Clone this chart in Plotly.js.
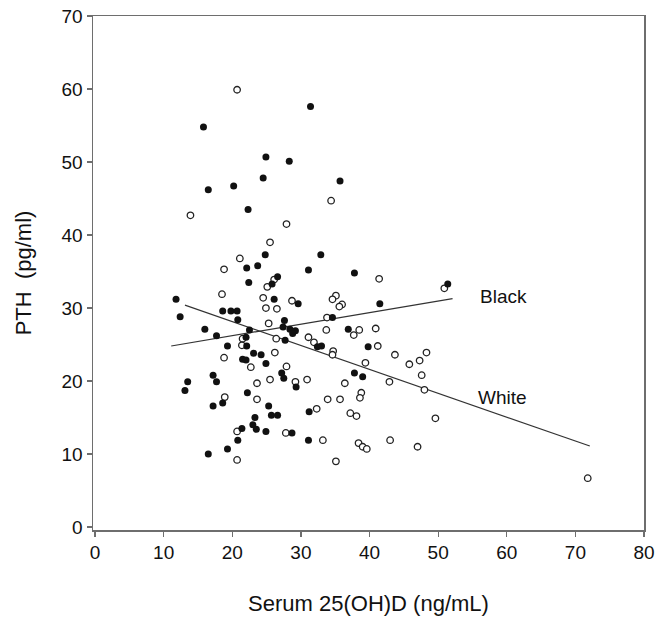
<!DOCTYPE html>
<html>
<head>
<meta charset="utf-8">
<script src="https://cdn.plot.ly/plotly-3.0.1.min.js"></script>
<style>html,body{margin:0;padding:0;background:#fff;}#chart{width:657px;height:627px;}</style>
</head>
<body>
<div id="chart"></div>
<script>
// Black subjects (filled circles): serum 25(OH)D and PTH
const blackX = [31.4,15.8,24.9,28.3,24.5,16.5,20.2,22.3,24.8,22.1,23.7,31.1,22.4,26.6,25.8,11.8,26.1,29.6,18.6,19.8,20.7,12.4,20.8,27.6,27.4,28.4,29.2,28.8,16.0,22.5,17.7,22.0,27.7,22.1,19.3,23.1,24.2,21.5,22.0,24.9,27.2,17.2,17.7,27.5,29.3,13.5,13.1,22.2,18.6,17.2,25.3,31.2,25.7,26.6,23.3,23.0,23.5,21.4,24.9,28.7,20.8,31.1,19.3,16.5,
  35.7,32.9,37.8,51.4,41.5,34.6,36.9,32.4,33.0,39.8,37.8,39.0];
const blackY = [57.6,54.8,50.7,50.1,47.8,46.2,46.7,43.5,37.3,35.5,35.8,35.2,33.5,34.3,33.3,31.2,31.2,30.6,29.6,29.6,29.6,28.8,28.4,28.3,27.4,27.1,26.9,26.5,27.1,27.0,26.2,26.0,25.6,24.8,24.8,23.8,23.6,23.0,22.9,22.4,21.1,20.8,19.9,20.4,19.2,19.9,18.7,18.4,17.0,16.6,16.6,15.8,15.3,15.3,15.0,14.0,13.4,13.5,13.1,12.9,11.9,11.9,10.7,10.0,
  47.4,37.3,34.8,33.3,30.6,28.7,27.1,24.7,24.8,24.7,21.1,20.6];
// White subjects (open circles)
const whiteX = [20.7,13.9,27.9,25.5,21.1,18.8,26.1,25.1,18.5,24.5,28.7,24.9,26.5,25.3,31.1,21.5,26.4,21.4,26.2,18.8,22.7,27.9,25.5,29.2,30.9,23.6,18.9,23.6,20.7,27.8,20.7,
  34.4,41.4,50.9,35.1,34.6,36.0,35.6,33.8,33.7,37.7,38.5,40.9,31.9,34.7,34.6,41.2,43.7,48.3,47.3,45.8,39.4,47.6,36.4,42.9,48.0,38.8,38.6,33.9,35.7,32.3,37.2,38.1,49.6,33.2,38.4,39.0,39.6,43.0,47.0,35.1,71.8];
const whiteY = [59.9,42.7,41.5,39.0,36.8,35.3,33.9,32.9,31.9,31.4,31.0,30.0,29.9,27.9,26.0,25.8,25.8,24.9,23.9,23.2,21.9,22.0,20.2,19.9,20.2,19.7,17.8,17.5,13.1,12.9,9.2,
  44.7,34.0,32.7,31.7,31.2,30.5,30.2,28.7,27.0,26.3,27.0,27.2,25.3,24.1,23.6,24.8,23.6,23.9,22.8,22.3,22.5,20.8,19.7,19.9,18.8,18.4,17.7,17.5,17.5,16.2,15.6,15.2,14.9,11.9,11.5,11.0,10.7,11.9,11.0,9.0,6.7];
// Regression line end points
const blackFitX = [11.1, 52.1];
const blackFitY = [24.8, 31.3];
const whiteFitX = [13.1, 72.1];
const whiteFitY = [30.4, 11.1];
// Tick values
const xTicks = [0,10,20,30,40,50,60,70,80];
const yTicks = [0,10,20,30,40,50,60,70];
const lineLabels = ["Black", "White"];

const FONT = "Liberation Sans, Arial, Helvetica, sans-serif";

const traces = [
  {x: blackFitX, y: blackFitY, mode: 'lines', line: {color: '#333', width: 1.2}, hoverinfo: 'skip'},
  {x: whiteFitX, y: whiteFitY, mode: 'lines', line: {color: '#333', width: 1.2}, hoverinfo: 'skip'},
  {x: whiteX, y: whiteY, mode: 'markers', marker: {symbol: 'circle', size: 6.5, color: '#fff', line: {color: '#222', width: 1.3}}},
  {x: blackX, y: blackY, mode: 'markers', marker: {symbol: 'circle', size: 7, color: '#111', line: {width: 0}}}
];

const axisCommon = {
  showline: true, linecolor: '#6e6e6e', linewidth: 1.5, mirror: true,
  ticks: 'outside', ticklen: 5, tickwidth: 1.3, tickcolor: '#6e6e6e',
  showgrid: false, zeroline: false,
  tickfont: {family: FONT, size: 19, color: '#111'}
};

const layout = {
  width: 657, height: 627,
  margin: {l: 93, r: 13, t: 16, b: 97},
  paper_bgcolor: '#fff', plot_bgcolor: '#fff',
  showlegend: false,
  xaxis: Object.assign({}, axisCommon, {
    range: [-0.3, 80], tickmode: 'array', tickvals: xTicks, ticktext: xTicks.map(String),
    title: {text: 'Serum 25(OH)D (ng/mL)', font: {family: FONT, size: 22, color: '#111'}, standoff: 33}
  }),
  yaxis: Object.assign({}, axisCommon, {
    range: [-0.4, 70], tickmode: 'array', tickvals: yTicks, ticktext: yTicks.map(String),
    title: {text: 'PTH  (pg/ml)', font: {family: FONT, size: 22, color: '#111'}, standoff: 24}
  }),
  annotations: [
    {x: 59.5, y: 31.6, xref: 'x', yref: 'y', text: lineLabels[0], showarrow: false, font: {family: FONT, size: 19, color: '#111'}},
    {x: 59.4, y: 17.8, xref: 'x', yref: 'y', text: lineLabels[1], showarrow: false, font: {family: FONT, size: 19, color: '#111'}}
  ]
};

Plotly.newPlot('chart', traces, layout, {displayModeBar: false, staticPlot: true});
</script>
</body>
</html>
